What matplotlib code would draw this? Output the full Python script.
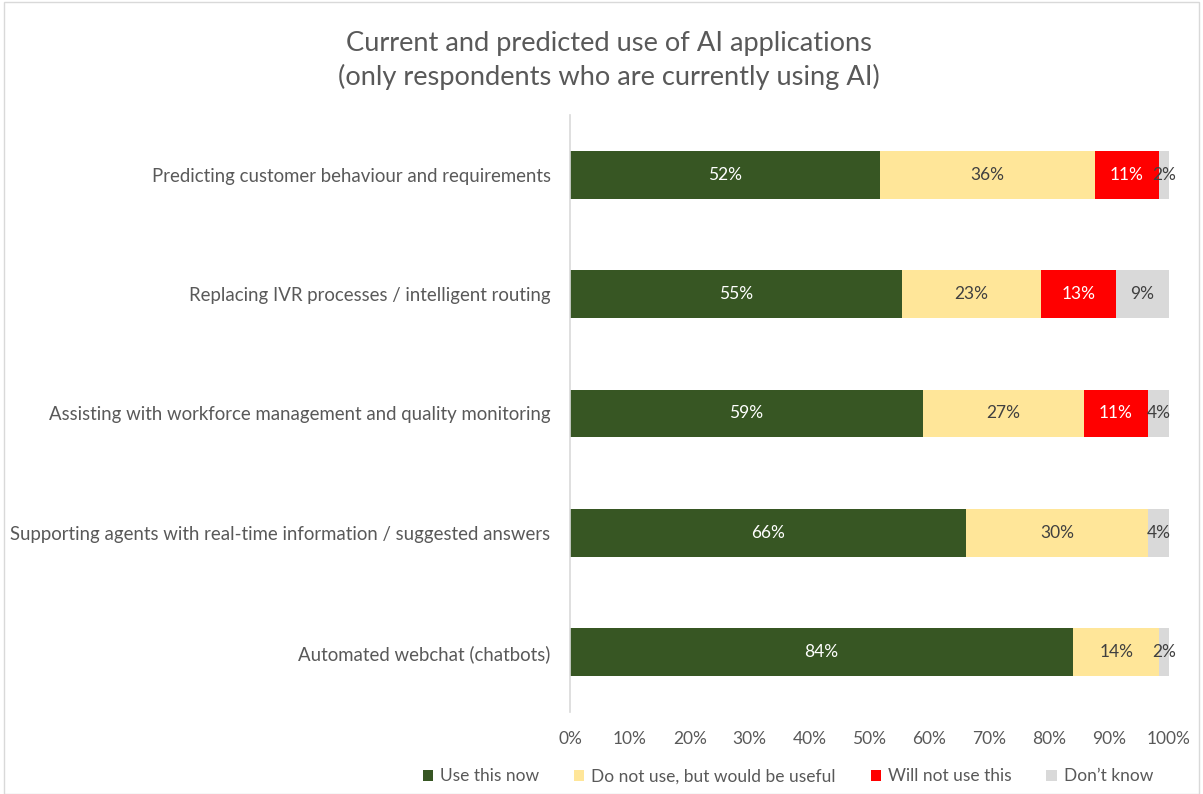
import matplotlib
matplotlib.use('Agg')
import matplotlib.pyplot as plt
import numpy as np

plt.rcParams['font.family'] = ['Lato', 'DejaVu Sans']

categories = ['Predicting customer behaviour and requirements',
              'Replacing IVR processes / intelligent routing',
              'Assisting with workforce management and quality monitoring',
              'Supporting agents with real-time information / suggested answers',
              'Automated webchat (chatbots)']
use_now = [51.8, 55.4, 58.9, 66.1, 84.0]
would_be_useful = [35.8, 23.2, 26.9, 30.4, 14.4]
will_not_use = [10.7, 12.6, 10.7, 0.0, 0.0]
dont_know = [1.7, 8.8, 3.5, 3.5, 1.6]

series = [('Use this now', use_now, '#375623', 'white'),
          ('Do not use, but would be useful', would_be_useful, '#FFE699', '#404040'),
          ('Will not use this', will_not_use, '#FF0000', 'white'),
          ('Don\u2019t know', dont_know, '#D9D9D9', '#404040')]

fig = plt.figure(figsize=(12.03, 7.94), dpi=100)
ax = fig.add_axes([0.4738, 0.1033, 0.4979, 0.7519])

y = np.arange(len(categories))
left = np.zeros(len(categories))
for name, vals, col, tcol in series:
    vals = np.array(vals)
    ax.barh(y, vals, left=left, height=0.4, color=col, label=name)
    for yi, l, v in zip(y, left, vals):
        if v > 0:
            ax.text(l + v / 2, yi, '{:.0f}%'.format(v), ha='center', va='center',
                    fontsize=12.5, color=tcol)
    left = left + vals

ax.set_ylim(4.5, -0.5)
ax.set_xlim(0, 100)
ax.set_yticks(y)
ax.set_yticklabels(categories, fontsize=13.4, color='#595959')
ax.set_xticks(np.arange(0, 101, 10))
ax.set_xticklabels(['{}%'.format(t) for t in range(0, 101, 10)], fontsize=12.5, color='#595959')
ax.tick_params(axis='both', length=0)
ax.tick_params(axis='y', pad=14)
ax.tick_params(axis='x', pad=14)
for s in ['top', 'right', 'bottom']:
    ax.spines[s].set_visible(False)
ax.spines['left'].set_color('#D9D9D9')
ax.spines['left'].set_linewidth(1.2)

fig.text(0.506, 0.924, 'Current and predicted use of AI applications\n(only respondents who are currently using AI)',
         ha='center', va='center', fontsize=19.6, color='#595959', linespacing=1.4)

ax.legend(loc='center', bbox_to_anchor=(0.655, 0.0225), bbox_transform=fig.transFigure,
          ncol=4, frameon=False, fontsize=12.5, handlelength=0.6, handleheight=0.6,
          columnspacing=2.0, handletextpad=0.4, labelcolor='#595959')

fig.patches.append(plt.Rectangle((0.003, 0.0), 0.994, 0.998, transform=fig.transFigure,
                                 fill=False, edgecolor='#D9D9D9', linewidth=1))

fig.savefig('out.png', dpi=100)
